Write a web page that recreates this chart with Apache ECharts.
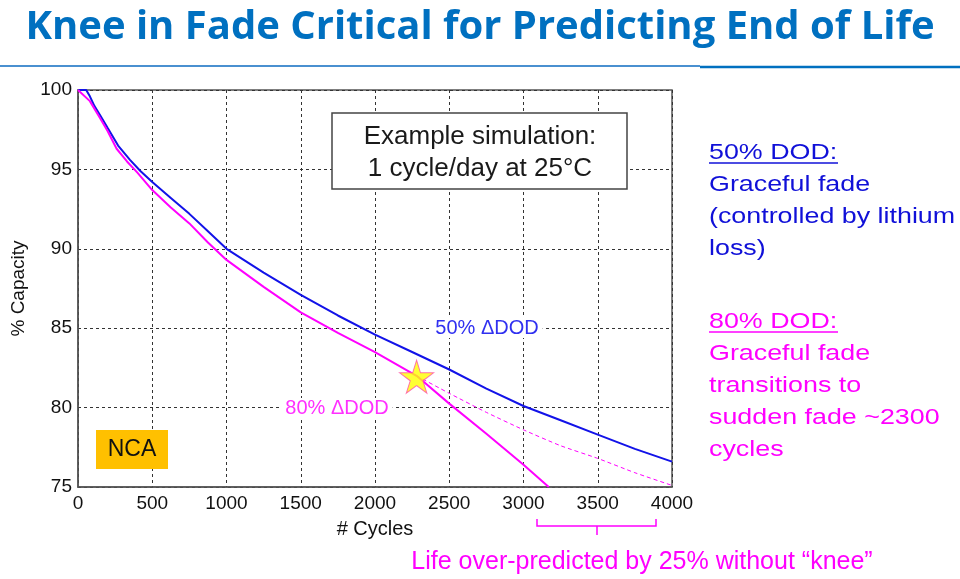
<!DOCTYPE html>
<html><head><meta charset="utf-8">
<script src="https://cdn.jsdelivr.net/npm/echarts@6/dist/echarts.min.js"></script>
<style>html,body{margin:0;padding:0;background:#fff}#c{width:960px;height:579px}</style>
</head><body><div id="c"></div>
<script>
// Data
const cycles50 = [0, 55, 80, 110, 150, 200, 270, 350, 420, 500, 625, 750, 875, 1000, 1250, 1500, 1750, 2000, 2250, 2500, 2750, 3000, 3250, 3500, 3750, 4000];
const dod50 =    [100, 100, 99.6, 99.0, 98.4, 97.6, 96.5, 95.6, 94.9, 94.2, 93.2, 92.2, 91.1, 90.0, 88.5, 87.1, 85.8, 84.6, 83.5, 82.4, 81.2, 80.1, 79.2, 78.3, 77.4, 76.6];
const cycles80 = [0, 80, 150, 200, 260, 330, 400, 500, 625, 750, 875, 1000, 1250, 1500, 1750, 2000, 2280, 2500, 2750, 3000, 3170];
const dod80 =    [100, 99.3, 98.2, 97.4, 96.3, 95.5, 94.8, 93.7, 92.6, 91.6, 90.4, 89.3, 87.6, 86.0, 84.7, 83.5, 82.0, 80.25, 78.35, 76.4, 75.0];
const cyclesNoKnee = [2280, 2500, 2750, 3000, 3250, 3500, 3750, 4000];
const dodNoKnee =    [82.0, 80.9, 79.7, 78.6, 77.6, 76.8, 75.9, 75.1];
const kneePoint = [2280, 81.95];
const xTicks = [0, 500, 1000, 1500, 2000, 2500, 3000, 3500, 4000];
const yTicks = [75, 80, 85, 90, 95, 100];

const zip = (a, b) => a.map((v, i) => [v, b[i]]);
const chart = echarts.init(document.getElementById('c'), null, {renderer: 'canvas'});
const AF = '"Liberation Sans", Arial, sans-serif';
const BLUE = '#1212E8', MAG = '#FF00FF';

chart.setOption({
  animation: false,
  grid: {left: 78, right: 288, top: 90, bottom: 92, show: true, borderColor: '#555', borderWidth: 1.5},
  xAxis: {
    type: 'value', min: xTicks[0], max: xTicks[xTicks.length - 1], interval: 500,
    name: '# Cycles', nameLocation: 'middle', nameGap: 32,
    nameTextStyle: {color: '#111', fontSize: 20, fontFamily: AF},
    axisLine: {lineStyle: {color: '#555', width: 1.5}},
    axisTick: {show: false},
    axisLabel: {color: '#111', fontSize: 19, fontFamily: AF, margin: 7, formatter: v => String(v)},
    splitLine: {show: true, lineStyle: {color: '#333', width: 1, type: [3, 3]}}
  },
  yAxis: {
    type: 'value', min: yTicks[0], max: yTicks[yTicks.length - 1], interval: 5,
    name: '% Capacity', nameLocation: 'middle', nameGap: 50, nameRotate: 90,
    nameTextStyle: {color: '#111', fontSize: 19, fontFamily: AF},
    axisLine: {lineStyle: {color: '#555', width: 1.5}},
    axisTick: {show: false},
    axisLabel: {color: '#111', fontSize: 19, fontFamily: AF, margin: 6},
    splitLine: {show: true, lineStyle: {color: '#333', width: 1, type: [3, 3]}}
  },
  series: [
    {type: 'line', name: '80% no knee', data: zip(cyclesNoKnee, dodNoKnee), showSymbol: false, smooth: 0.2,
     lineStyle: {color: MAG, width: 1, type: [4, 3]}, z: 3},
    {type: 'line', name: '50% DOD', data: zip(cycles50, dod50), showSymbol: false, smooth: false,
     lineStyle: {color: BLUE, width: 2}, z: 4},
    {type: 'line', name: '80% DOD', data: zip(cycles80, dod80), showSymbol: false, smooth: false,
     lineStyle: {color: MAG, width: 2}, z: 4},
    {type: 'scatter', data: [kneePoint], symbol: 'path://M50,0 L61,35 L98,35 L68,57 L79,91 L50,70 L21,91 L32,57 L2,35 L39,35 Z',
     symbolSize: [34, 33], itemStyle: {color: '#FFFF00', borderColor: '#FF4FA8', borderWidth: 1}, z: 6}
  ],
  graphic: [
    // title
    {type: 'text', x: 480, y: 28, style: {text: 'Knee in Fade Critical for Predicting End of Life', fill: '#0070C0',
      font: 'bold 40px "Open Sans", sans-serif', align: 'center', verticalAlign: 'middle'}},
    {type: 'line', shape: {x1: 0, y1: 66, x2: 700, y2: 66}, style: {stroke: '#4A90D0', lineWidth: 2}},
    {type: 'line', shape: {x1: 700, y1: 67, x2: 960, y2: 67}, style: {stroke: '#0070C0', lineWidth: 2.5}},
    // sim box
    {type: 'rect', shape: {x: 332, y: 113, width: 295, height: 76}, style: {fill: '#fff', stroke: '#444', lineWidth: 1.5}, z: 10},
    {type: 'text', x: 480, y: 121, z: 11, style: {text: 'Example simulation:\n1 cycle/day at 25°C', fill: '#1a1a1a',
      font: '26px ' + AF, align: 'center', verticalAlign: 'top', lineHeight: 32}},
    // NCA
    {type: 'rect', shape: {x: 96, y: 430, width: 72, height: 39}, style: {fill: '#FFC000'}, z: 10},
    {type: 'text', x: 132, y: 450, z: 11, style: {text: 'NCA', fill: '#111', font: '23px ' + AF, align: 'center', verticalAlign: 'middle'}},
    // series labels
    {type: 'text', x: 487, y: 328, z: 11, style: {text: '50% ΔDOD', fill: '#3030F0', font: '20px ' + AF, align: 'center', verticalAlign: 'middle',
      backgroundColor: '#fff', padding: [0, 4]}},
    {type: 'text', x: 337, y: 408, z: 11, style: {text: '80% ΔDOD', fill: '#FF30FF', font: '20px ' + AF, align: 'center', verticalAlign: 'middle',
      backgroundColor: '#fff', padding: [0, 4]}},
    // right notes
    {type: 'text', x: 709, y: 137, scaleX: 1.22, style: {text: '50% DOD:\nGraceful fade\n(controlled by lithium\nloss)', fill: '#1010D8',
      font: '22px ' + AF, verticalAlign: 'top', lineHeight: 32}},
    {type: 'line', shape: {x1: 709, y1: 163, x2: 838, y2: 163}, style: {stroke: '#1010D8', lineWidth: 1.5}},
    {type: 'text', x: 709, y: 306, scaleX: 1.22, style: {text: '80% DOD:\nGraceful fade\ntransitions to\nsudden fade ~2300\ncycles', fill: MAG,
      font: '22px ' + AF, verticalAlign: 'top', lineHeight: 32}},
    {type: 'line', shape: {x1: 709, y1: 332, x2: 838, y2: 332}, style: {stroke: MAG, lineWidth: 1.5}},
    // bracket
    {type: 'polyline', shape: {points: [[537, 519], [537, 526], [656, 526], [656, 519]]}, style: {stroke: MAG, lineWidth: 1.5, fill: null}},
    {type: 'line', shape: {x1: 597, y1: 526, x2: 597, y2: 535}, style: {stroke: MAG, lineWidth: 1.5}},
    {type: 'text', x: 642, y: 562, style: {text: 'Life over-predicted by 25% without “knee”', fill: MAG, font: '25px ' + AF,
      align: 'center', verticalAlign: 'middle'}}
  ]
});
</script></body></html>
